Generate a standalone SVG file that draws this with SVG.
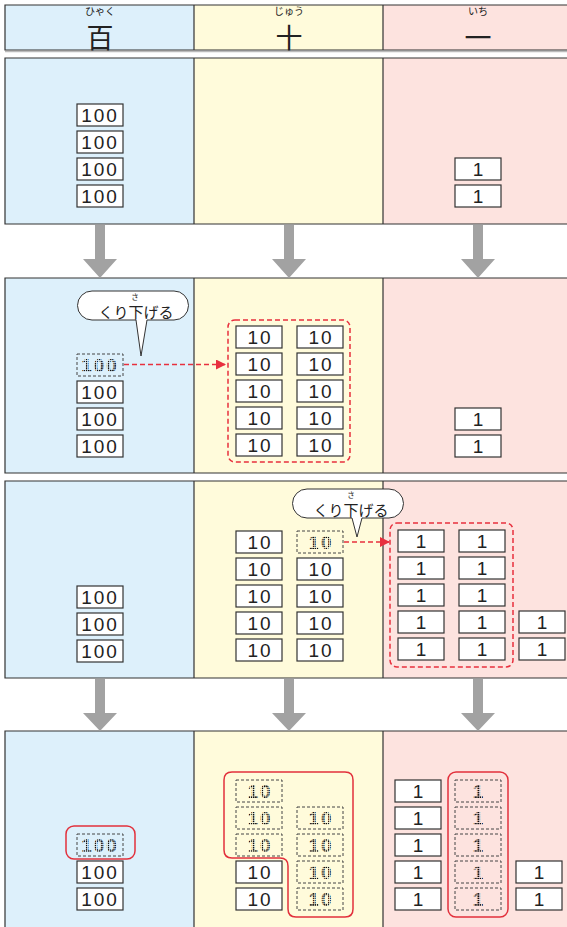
<svg xmlns="http://www.w3.org/2000/svg" width="567" height="927" viewBox="0 0 567 927">
<style>
.bl{fill:#ddf0fb}.ye{fill:#fffbdb}.pk{fill:#fde3df}
.frame{fill:none;stroke:#333;stroke-width:1.2}
.card rect{fill:#fff;stroke:#333;stroke-width:1.2}
.card text{font-family:"Liberation Sans","DejaVu Sans",sans-serif;font-size:19px;fill:#222;text-anchor:middle;letter-spacing:2px}
.dcard rect{fill:none;stroke:#444;stroke-width:1;stroke-dasharray:3 2}
.dcard text{font-family:"Liberation Sans","DejaVu Sans",sans-serif;font-size:19px;font-weight:bold;fill:url(#dots);text-anchor:middle;letter-spacing:2px}
.jp{font-family:"Noto Sans CJK JP","Noto Sans",sans-serif;fill:#222;text-anchor:middle}
.ruby{font-size:10px}
.sruby{font-size:7.5px}
.big{font-size:27px}
.bub{fill:#fff;stroke:#333;stroke-width:1}
.garrow{fill:#a2a2a2}
.rdash{fill:none;stroke:#e8303e;stroke-width:1.5;stroke-dasharray:5 3}
.rsolid{fill:none;stroke:#e2303c;stroke-width:1.5}
</style>
<defs>
<pattern id="dots" width="2.2" height="2.2" patternUnits="userSpaceOnUse">
<rect width="1.5" height="1.5" fill="#111"/>
</pattern>
<marker id="rh" viewBox="0 0 10 10" refX="10" refY="5" markerWidth="10" markerHeight="10" markerUnits="userSpaceOnUse" orient="auto">
<path d="M0,0 L10,5 L0,10 Z" fill="#e8303e"/>
</marker>
</defs>
<rect width="567" height="927" fill="#fff"/>

<!-- header -->
<g id="header">
<rect class="bl" x="5" y="5" width="189" height="45"/>
<rect class="ye" x="194" y="5" width="189" height="45"/>
<rect class="pk" x="383" y="5" width="184" height="45"/>
<line x1="5" y1="51.5" x2="567" y2="51.5" stroke="#bbb" stroke-width="1.5"/>
<path class="frame" d="M567,5 H5 V50 H567 M194,5 V50 M383,5 V50"/>
<text class="jp ruby" x="100" y="15">ひゃく</text>
<text class="jp big" x="100" y="47.5">百</text>
<text class="jp ruby" x="289" y="15">じゅう</text>
<text class="jp big" x="289" y="47.5">十</text>
<text class="jp ruby" x="478" y="15">いち</text>
<text class="jp big" x="478" y="47.5">一</text>
</g>

<!-- panel backgrounds -->
<g id="panels">
<rect class="bl" x="5" y="58" width="189" height="166"/>
<rect class="ye" x="194" y="58" width="189" height="166"/>
<rect class="pk" x="383" y="58" width="184" height="166"/>
<path class="frame" d="M567,58 H5 V224 H567 M194,58 V224 M383,58 V224"/>

<rect class="bl" x="5" y="278" width="189" height="195"/>
<rect class="ye" x="194" y="278" width="189" height="195"/>
<rect class="pk" x="383" y="278" width="184" height="195"/>
<path class="frame" d="M567,278 H5 V473 H567 M194,278 V473 M383,278 V473"/>

<rect class="bl" x="5" y="481" width="189" height="197"/>
<rect class="ye" x="194" y="481" width="189" height="197"/>
<rect class="pk" x="383" y="481" width="184" height="197"/>
<path class="frame" d="M567,481 H5 V678 H567 M194,481 V678 M383,481 V678"/>

<rect class="bl" x="5" y="731" width="189" height="200"/>
<rect class="ye" x="194" y="731" width="189" height="200"/>
<rect class="pk" x="383" y="731" width="184" height="200"/>
<path class="frame" d="M567,731 H5 V930 M194,731 V930 M383,731 V930"/>
</g>

<!-- connectors -->
<g id="connectors">
<path class="garrow" d="M95,225 H105 V259 H117 L100,278 L83,259 H95 Z"/>
<path class="garrow" d="M284,225 H294 V259 H306 L289,278 L272,259 H284 Z"/>
<path class="garrow" d="M473,225 H483 V259 H495 L478,278 L461,259 H473 Z"/>
<path class="garrow" d="M95,679 H105 V713 H117 L100,731 L83,713 H95 Z"/>
<path class="garrow" d="M284,679 H294 V713 H306 L289,731 L272,713 H284 Z"/>
<path class="garrow" d="M473,679 H483 V713 H495 L478,731 L461,713 H473 Z"/>
<line class="rdash" x1="124" y1="364.5" x2="226" y2="364.5" marker-end="url(#rh)"/>
<line class="rdash" x1="344" y1="542" x2="390" y2="542" marker-end="url(#rh)"/>
</g>

<!-- panel 1 -->
<g id="p1-hundreds">
<g class="card"><rect x="77" y="104" width="46" height="22"/><text x="100" y="122">100</text></g>
<g class="card"><rect x="77" y="131" width="46" height="22"/><text x="100" y="149">100</text></g>
<g class="card"><rect x="77" y="158" width="46" height="22"/><text x="100" y="176">100</text></g>
<g class="card"><rect x="77" y="185" width="46" height="22"/><text x="100" y="203">100</text></g>
</g>
<g id="p1-ones">
<g class="card"><rect x="455" y="158" width="46" height="22"/><text x="479" y="176">1</text></g>
<g class="card"><rect x="455" y="185" width="46" height="22"/><text x="479" y="203">1</text></g>
</g>

<!-- panel 2 -->
<g id="p2-bubble">
<path class="bub" d="M92,291 H174 A14.5,14.5 0 0 1 174,320 H147 L141,356 L136,320 H92 A14.5,14.5 0 0 1 92,291 Z"/>
<text class="jp sruby" x="135" y="299.5">さ</text>
<text class="jp" x="136" y="317.5" font-size="15">くり下げる</text>
</g>
<g id="p2-hundreds">
<g class="dcard"><rect x="77" y="354" width="46" height="22"/><text x="100" y="372">100</text></g>
<g class="card"><rect x="77" y="381" width="46" height="22"/><text x="100" y="399">100</text></g>
<g class="card"><rect x="77" y="408" width="46" height="22"/><text x="100" y="426">100</text></g>
<g class="card"><rect x="77" y="435" width="46" height="22"/><text x="100" y="453">100</text></g>
</g>
<g id="p2-tens">
<rect class="rdash" x="228" y="320" width="122" height="142" rx="7"/>
<g class="card"><rect x="236" y="326" width="46" height="22"/><text x="260" y="344">10</text></g>
<g class="card"><rect x="236" y="353" width="46" height="22"/><text x="260" y="371">10</text></g>
<g class="card"><rect x="236" y="380" width="46" height="22"/><text x="260" y="398">10</text></g>
<g class="card"><rect x="236" y="407" width="46" height="22"/><text x="260" y="425">10</text></g>
<g class="card"><rect x="236" y="434" width="46" height="22"/><text x="260" y="452">10</text></g>
<g class="card"><rect x="297" y="326" width="46" height="22"/><text x="321" y="344">10</text></g>
<g class="card"><rect x="297" y="353" width="46" height="22"/><text x="321" y="371">10</text></g>
<g class="card"><rect x="297" y="380" width="46" height="22"/><text x="321" y="398">10</text></g>
<g class="card"><rect x="297" y="407" width="46" height="22"/><text x="321" y="425">10</text></g>
<g class="card"><rect x="297" y="434" width="46" height="22"/><text x="321" y="452">10</text></g>
</g>
<g id="p2-ones">
<g class="card"><rect x="455" y="408" width="46" height="22"/><text x="479" y="426">1</text></g>
<g class="card"><rect x="455" y="435" width="46" height="22"/><text x="479" y="453">1</text></g>
</g>

<!-- panel 3 -->
<g id="p3-hundreds">
<g class="card"><rect x="77" y="586" width="46" height="22"/><text x="100" y="604">100</text></g>
<g class="card"><rect x="77" y="613" width="46" height="22"/><text x="100" y="631">100</text></g>
<g class="card"><rect x="77" y="640" width="46" height="22"/><text x="100" y="658">100</text></g>
</g>
<g id="p3-bubble">
<path class="bub" d="M307,489 H389 A14.5,14.5 0 0 1 389,518 H362 L357,537 L352,518 H307 A14.5,14.5 0 0 1 307,489 Z"/>
<text class="jp sruby" x="351" y="497.5">さ</text>
<text class="jp" x="351" y="515.5" font-size="15">くり下げる</text>
</g>
<g id="p3-tens">
<g class="card"><rect x="236" y="531" width="46" height="22"/><text x="260" y="549">10</text></g>
<g class="card"><rect x="236" y="558" width="46" height="22"/><text x="260" y="576">10</text></g>
<g class="card"><rect x="236" y="585" width="46" height="22"/><text x="260" y="603">10</text></g>
<g class="card"><rect x="236" y="612" width="46" height="22"/><text x="260" y="630">10</text></g>
<g class="card"><rect x="236" y="639" width="46" height="22"/><text x="260" y="657">10</text></g>
<g class="dcard"><rect x="297" y="531" width="46" height="22"/><text x="321" y="549">10</text></g>
<g class="card"><rect x="297" y="558" width="46" height="22"/><text x="321" y="576">10</text></g>
<g class="card"><rect x="297" y="585" width="46" height="22"/><text x="321" y="603">10</text></g>
<g class="card"><rect x="297" y="612" width="46" height="22"/><text x="321" y="630">10</text></g>
<g class="card"><rect x="297" y="639" width="46" height="22"/><text x="321" y="657">10</text></g>
</g>
<g id="p3-ones">
<rect class="rdash" x="390" y="523" width="123" height="144" rx="7"/>
<g class="card"><rect x="398" y="530" width="46" height="22"/><text x="422" y="548">1</text></g>
<g class="card"><rect x="398" y="557" width="46" height="22"/><text x="422" y="575">1</text></g>
<g class="card"><rect x="398" y="584" width="46" height="22"/><text x="422" y="602">1</text></g>
<g class="card"><rect x="398" y="611" width="46" height="22"/><text x="422" y="629">1</text></g>
<g class="card"><rect x="398" y="638" width="46" height="22"/><text x="422" y="656">1</text></g>
<g class="card"><rect x="459" y="530" width="46" height="22"/><text x="483" y="548">1</text></g>
<g class="card"><rect x="459" y="557" width="46" height="22"/><text x="483" y="575">1</text></g>
<g class="card"><rect x="459" y="584" width="46" height="22"/><text x="483" y="602">1</text></g>
<g class="card"><rect x="459" y="611" width="46" height="22"/><text x="483" y="629">1</text></g>
<g class="card"><rect x="459" y="638" width="46" height="22"/><text x="483" y="656">1</text></g>
<g class="card"><rect x="519" y="611" width="46" height="22"/><text x="543" y="629">1</text></g>
<g class="card"><rect x="519" y="638" width="46" height="22"/><text x="543" y="656">1</text></g>
</g>

<!-- panel 4 -->
<g id="p4-hundreds">
<rect class="rsolid" x="66" y="826" width="69" height="33" rx="8"/>
<g class="dcard"><rect x="77" y="834" width="46" height="22"/><text x="100" y="852">100</text></g>
<g class="card"><rect x="77" y="861" width="46" height="22"/><text x="100" y="879">100</text></g>
<g class="card"><rect x="77" y="888" width="46" height="22"/><text x="100" y="906">100</text></g>
</g>
<g id="p4-tens">
<path class="rsolid" d="M224,780 Q224,772 232,772 L345,772 Q353,772 353,780 L353,909 Q353,917 345,917 L296,917 Q288,917 288,909 L288,866 Q288,858 280,858 L232,858 Q224,858 224,850 Z"/>
<g class="dcard"><rect x="236" y="780" width="46" height="22"/><text x="260" y="798">10</text></g>
<g class="dcard"><rect x="236" y="807" width="46" height="22"/><text x="260" y="825">10</text></g>
<g class="dcard"><rect x="236" y="834" width="46" height="22"/><text x="260" y="852">10</text></g>
<g class="card"><rect x="236" y="861" width="46" height="22"/><text x="260" y="879">10</text></g>
<g class="card"><rect x="236" y="888" width="46" height="22"/><text x="260" y="906">10</text></g>
<g class="dcard"><rect x="297" y="807" width="46" height="22"/><text x="321" y="825">10</text></g>
<g class="dcard"><rect x="297" y="834" width="46" height="22"/><text x="321" y="852">10</text></g>
<g class="dcard"><rect x="297" y="861" width="46" height="22"/><text x="321" y="879">10</text></g>
<g class="dcard"><rect x="297" y="888" width="46" height="22"/><text x="321" y="906">10</text></g>
</g>
<g id="p4-ones">
<rect class="rsolid" x="448" y="772" width="60" height="145" rx="8"/>
<g class="card"><rect x="395" y="780" width="46" height="22"/><text x="419" y="798">1</text></g>
<g class="card"><rect x="395" y="807" width="46" height="22"/><text x="419" y="825">1</text></g>
<g class="card"><rect x="395" y="834" width="46" height="22"/><text x="419" y="852">1</text></g>
<g class="card"><rect x="395" y="861" width="46" height="22"/><text x="419" y="879">1</text></g>
<g class="card"><rect x="395" y="888" width="46" height="22"/><text x="419" y="906">1</text></g>
<g class="dcard"><rect x="455" y="780" width="46" height="22"/><text x="479" y="798">1</text></g>
<g class="dcard"><rect x="455" y="807" width="46" height="22"/><text x="479" y="825">1</text></g>
<g class="dcard"><rect x="455" y="834" width="46" height="22"/><text x="479" y="852">1</text></g>
<g class="dcard"><rect x="455" y="861" width="46" height="22"/><text x="479" y="879">1</text></g>
<g class="dcard"><rect x="455" y="888" width="46" height="22"/><text x="479" y="906">1</text></g>
<g class="card"><rect x="516" y="861" width="46" height="22"/><text x="540" y="879">1</text></g>
<g class="card"><rect x="516" y="888" width="46" height="22"/><text x="540" y="906">1</text></g>
</g>
</svg>
